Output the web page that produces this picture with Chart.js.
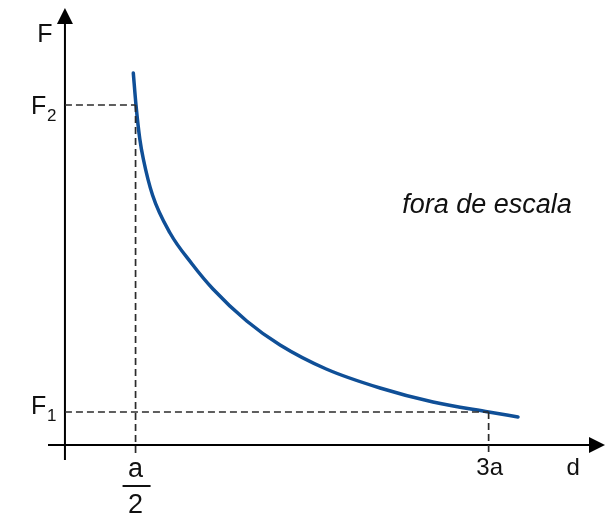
<!DOCTYPE html>
<html>
<head>
<meta charset="utf-8">
<script src="https://cdn.jsdelivr.net/npm/chart.js@4"></script>
<style>
  body { margin: 0; background: #fff; }
  #wrap { width: 612px; height: 520px; }
</style>
</head>
<body>
<div id="wrap"><canvas id="forceChart" width="612" height="520"></canvas></div>
<script>
// d in units of a, F in arbitrary units (drawing is "fora de escala")
const distance = [0.484, 0.503, 0.53, 0.555, 0.62, 0.744, 0.9, 1.048, 1.287, 1.523, 1.85, 2.231, 2.606, 3.0, 3.208];
const force    = [37.2, 34.0, 30.6, 28.6, 25.0, 21.2, 18.1, 15.6, 12.4, 10.0, 7.6, 5.7, 4.3, 3.3, 2.8];

const dNear = 0.5, dFar = 3.0;
const F2 = 34.0, F1 = 3.3;
const xLabels = ["a", "2", "3a", "d"];
const yLabels = ["F", "F", "2", "F", "1"];
const note = "fora de escala";

const dMin = -0.12, dMax = 3.824;
const fMin = -1.5, fMax = 43.7;

const curve = distance.map((d, i) => ({ x: d, y: force[i] }));

const dashStyle = {
  borderColor: '#2b2b2b',
  borderWidth: 1.7,
  borderDash: [7, 4],
  pointRadius: 0,
  fill: false,
  showLine: true
};

const FONT = '"Liberation Sans", Arial, sans-serif';

const axesPlugin = {
  id: 'axesAndLabels',
  beforeDatasetsDraw(chart) {
    const ctx = chart.ctx;
    const xs = chart.scales.x, ys = chart.scales.y;
    const x0 = xs.getPixelForValue(0), y0 = ys.getPixelForValue(0);
    const left = xs.getPixelForValue(dMin), right = xs.getPixelForValue(dMax);
    const top = ys.getPixelForValue(fMax), bottom = ys.getPixelForValue(fMin);
    ctx.save();
    ctx.strokeStyle = '#000';
    ctx.fillStyle = '#000';
    ctx.lineWidth = 2;
    ctx.beginPath();
    ctx.moveTo(left, y0); ctx.lineTo(right - 12, y0);
    ctx.moveTo(x0, bottom); ctx.lineTo(x0, top + 12);
    ctx.stroke();
    // arrow heads
    ctx.beginPath();
    ctx.moveTo(right, y0); ctx.lineTo(right - 16, y0 - 8); ctx.lineTo(right - 16, y0 + 8);
    ctx.closePath(); ctx.fill();
    ctx.beginPath();
    ctx.moveTo(x0, top); ctx.lineTo(x0 - 8, top + 16); ctx.lineTo(x0 + 8, top + 16);
    ctx.closePath(); ctx.fill();
    ctx.restore();
  },
  afterDraw(chart) {
    const ctx = chart.ctx;
    const xs = chart.scales.x, ys = chart.scales.y;
    const x0 = xs.getPixelForValue(0), y0 = ys.getPixelForValue(0);
    const xa = xs.getPixelForValue(dNear), x3 = xs.getPixelForValue(dFar);
    const yF2 = ys.getPixelForValue(F2), yF1 = ys.getPixelForValue(F1);
    ctx.save();
    ctx.fillStyle = '#111';
    ctx.textBaseline = 'alphabetic';
    ctx.font = '25px ' + FONT;
    ctx.textAlign = 'center';
    ctx.fillText(yLabels[0], x0 - 20, 42);
    // F2, F1 with subscripts
    ctx.textAlign = 'left';
    ctx.fillText(yLabels[1], x0 - 34, yF2 + 9);
    ctx.fillText(yLabels[3], x0 - 34, yF1 + 2);
    ctx.font = '17px ' + FONT;
    ctx.fillText(yLabels[2], x0 - 18, yF2 + 16);
    ctx.fillText(yLabels[4], x0 - 18, yF1 + 9);
    // a/2 fraction
    ctx.textAlign = 'center';
    ctx.font = '27px ' + FONT;
    ctx.fillText(xLabels[0], xa, y0 + 32);
    ctx.fillText(xLabels[1], xa, y0 + 68);
    ctx.fillRect(xa - 13, y0 + 40, 28, 2);
    ctx.font = '24px ' + FONT;
    ctx.fillText(xLabels[2], x3 + 1, y0 + 30);
    ctx.fillText(xLabels[3], xs.getPixelForValue(3.598), y0 + 30);
    ctx.font = 'italic 27px ' + FONT;
    ctx.fillText(note, 487, 213);
    ctx.restore();
  }
};

new Chart(document.getElementById('forceChart'), {
  type: 'scatter',
  data: {
    datasets: [
      Object.assign({ data: [{ x: 0, y: F2 }, { x: dNear, y: F2 }] }, dashStyle),
      Object.assign({ data: [{ x: dNear, y: F2 }, { x: dNear, y: fMin + 0.7 }] }, dashStyle),
      Object.assign({ data: [{ x: 0, y: F1 }, { x: dFar, y: F1 }] }, dashStyle),
      Object.assign({ data: [{ x: dFar, y: F1 }, { x: dFar, y: fMin + 0.7 }] }, dashStyle),
      {
        data: curve,
        showLine: true,
        borderColor: '#0f4f97',
        borderWidth: 3.5,
        pointRadius: 0,
        cubicInterpolationMode: 'monotone',
        borderCapStyle: 'round',
        fill: false
      }
    ]
  },
  options: {
    responsive: false,
    animation: false,
    events: [],
    layout: { padding: { left: 48, right: 7, top: 8, bottom: 60 } },
    plugins: { legend: { display: false }, tooltip: { enabled: false } },
    scales: {
      x: { type: 'linear', min: dMin, max: dMax, display: false },
      y: { type: 'linear', min: fMin, max: fMax, display: false }
    }
  },
  plugins: [axesPlugin]
});
</script>
</body>
</html>
